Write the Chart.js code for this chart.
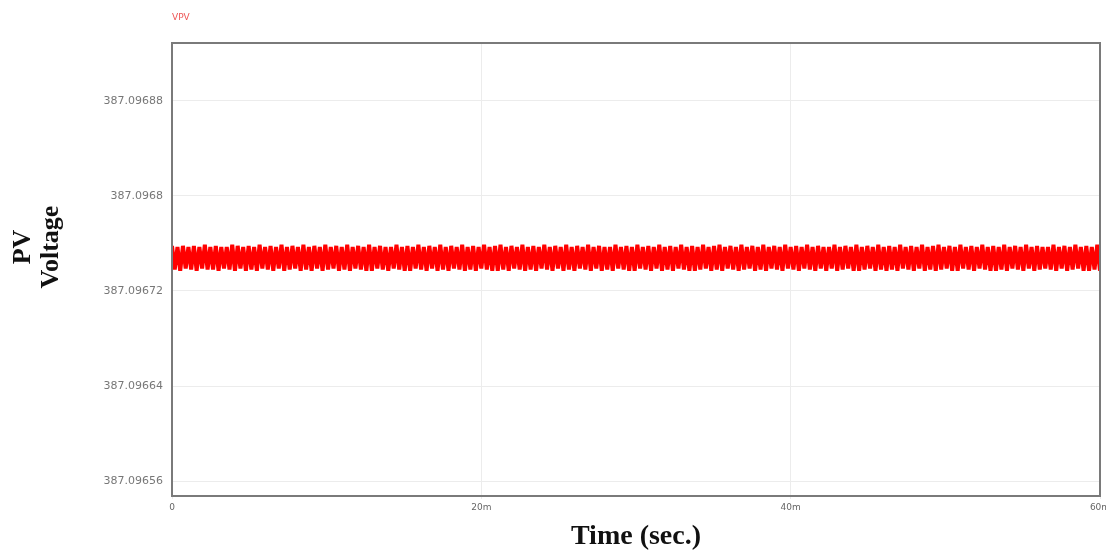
<!DOCTYPE html>
<html>
<head>
<meta charset="utf-8">
<script src="https://cdn.jsdelivr.net/npm/chart.js@4"></script>
<style>
  html, body { margin: 0; padding: 0; background: #fff; }
  #wrap { width: 1106px; height: 550px; }
</style>
</head>
<body>
<div id="wrap"><canvas id="chart" width="1106" height="550"></canvas></div>
<script>
const baseVolt = 387.0967;
const rippleUV = [
  58,38,57,37,58,39,57,38,58,37,57,39,59,38,57,38,58,37,57,39,
  57,38,59,37,58,39,57,37,58,38,57,37,59,39,57,38,58,37,57,39,
  59,37,57,38,58,39,57,37,59,38,57,37,58,39,57,37,59,38,57,39,
  58,37,57,38,59,37,57,39,58,38,57,37,59,37,57,39,58,38,57,37,
  57,39,59,38,57,37,58,37,57,39,59,38,57,37,58,39,57,37,59,38,
  57,37,58,39,57,38,59,37,57,38,58,37,57,39,59,38,57,37,58,37,
  59,38,57,37,58,39,57,38,59,37,57,38,58,37,57,39,59,38,57,37,
  58,39,57,37,59,38,57,37,58,39,57,38,59,37,57,39,58,37,57,38,
  57,37,59,39,57,38,58,37,57,37,59,39,57,38,58,37,57,39,59,37,
  57,38,58,37,57,39,59,38,57,37,58,37,57,38,59,39,57,37,58,38,
  59,37,57,39,58,38,57,37,59,38,57,39,58,37,57,38,59,37,57,39,
  58,38,57,37,59,39,57,38,58,37,57,39,59,38,57,37,58,39,57,37,
  57,39,59,37,57,38,58,39,57,37,59,37,57,38,58,39,57,37,59,38,
  57,37,58,38,57,37,59,39,57,38,58,37,57,39,59,37,57,38,58,37,
  59,38,57,39,58,37,57,37,59,39,57,38,58,37,57,39,59,38,57,37,
  58,37,57,38,59,37,57,39,58,38,57,37,59,39,57,37,58,38,57,39,
  57,38,59,37,57,39,58,37,57,38,59,39,57,37,58,37,57,38,59,37
];
const endTimeMs = 60;
const yTicks = [387.09656, 387.09664, 387.09672, 387.0968, 387.09688];
const yTickLabels = ['387.09656', '387.09664', '387.09672', '387.0968', '387.09688'];
const xTicks = [0, 20, 40, 60];
const xTickLabels = ['0', '20m', '40m', '60m'];
const yMin = 387.0965474;
const yMax = 387.0969288;

const points = rippleUV.map((uv, i) => ({
  x: i * endTimeMs / (rippleUV.length - 1),
  y: baseVolt + uv * 1e-6
}));

const decor = {
  id: 'decor',
  afterDraw(chart) {
    const { ctx, chartArea: a } = chart;
    ctx.save();
    ctx.strokeStyle = '#7a7a7a';
    ctx.lineWidth = 2;
    ctx.strokeRect(a.left, a.top, a.right - a.left, a.bottom - a.top);

    ctx.fillStyle = '#ee5555';
    ctx.font = '9px "DejaVu Sans"';
    ctx.textAlign = 'left';
    ctx.textBaseline = 'middle';
    ctx.fillText('VPV', a.left, 18);

    ctx.fillStyle = '#111';
    ctx.font = 'bold 28px "Liberation Serif"';
    ctx.textAlign = 'center';
    ctx.fillText('Time (sec.)', 636, 537);

    ctx.font = 'bold 26px "Liberation Serif"';
    ctx.translate(0, 247);
    ctx.rotate(-Math.PI / 2);
    ctx.fillText('PV', 0, 23);
    ctx.fillText('Voltage', 0, 51);
    ctx.restore();
  }
};

new Chart(document.getElementById('chart').getContext('2d'), {
  type: 'line',
  data: {
    datasets: [{
      label: 'VPV',
      data: points,
      borderColor: '#ff0000',
      borderWidth: 4,
      borderJoinStyle: 'bevel',
      pointRadius: 0,
      tension: 0
    }]
  },
  options: {
    responsive: false,
    animation: false,
    layout: { padding: { left: 0, right: 6, top: 43, bottom: 0 } },
    plugins: { legend: { display: false }, tooltip: { enabled: false } },
    scales: {
      x: {
        type: 'linear',
        min: 0,
        max: endTimeMs,
        afterFit: s => { s.height = 54; s.paddingLeft = 0; s.paddingRight = 0; },
        afterBuildTicks: s => { s.ticks = xTicks.map(v => ({ value: v })); },
        ticks: {
          callback: (v) => xTickLabels[xTicks.indexOf(v)],
          font: { family: 'DejaVu Sans', size: 9 },
          color: '#666',
          padding: 3,
          maxRotation: 0
        },
        grid: { color: '#ececec', drawTicks: true, tickLength: 3 },
        border: { display: false }
      },
      y: {
        min: yMin,
        max: yMax,
        afterFit: s => { s.width = 172; },
        afterBuildTicks: s => { s.ticks = yTicks.map(v => ({ value: v })); },
        ticks: {
          callback: (v) => yTickLabels[yTicks.indexOf(v)],
          font: { family: 'DejaVu Sans', size: 11 },
          color: '#777',
          padding: 9
        },
        grid: { color: '#ececec', drawTicks: false },
        border: { display: false }
      }
    }
  },
  plugins: [decor]
});
</script>
</body>
</html>
